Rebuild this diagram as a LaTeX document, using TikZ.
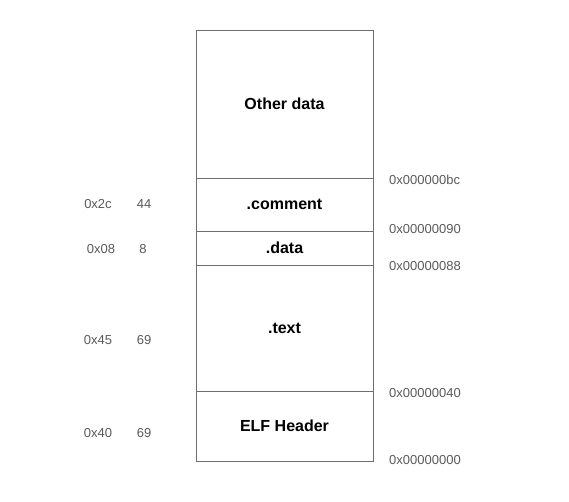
\documentclass[tikz,border=0pt]{standalone}
\usepackage{fontspec}
\setmainfont{Liberation Sans}
\usetikzlibrary{positioning}
\definecolor{linegray}{HTML}{6E6E6E}
\definecolor{labelgray}{HTML}{5A5A5A}

\begin{document}
\begin{tikzpicture}[
    x=1pt, y=-1pt,
    node distance=0pt,
    sect/.style={rectangle, draw=linegray, line width=0.7pt, minimum width=177pt, inner sep=0pt, outer sep=0pt, font=\fontsize{16}{19}\selectfont\bfseries},
    addr/.style={text=labelgray, inner sep=0pt, font=\fontsize{13}{15}\selectfont},
    size/.style={text=labelgray, inner sep=0pt, font=\fontsize{13}{15}\selectfont}
]
\useasboundingbox (0,0) rectangle (569,502);

% Memory layout, bottom to top
\node[sect, minimum height=70pt] (elf) at (284.5,426) {ELF Header};
\node[sect, minimum height=126pt, above=of elf] (text) {.text};
\node[sect, minimum height=34pt, above=of text] (data) {.data};
\node[sect, minimum height=53pt, above=of data] (comment) {.comment};
\node[sect, minimum height=148pt, above=of comment] (other) {Other data};

% Addresses on the right
\node[addr, right=16pt of other.south east, yshift=-2pt] (a-bc) {0x000000bc};
\node[addr, right=16pt of comment.south east, yshift=2pt] (a-90) {0x00000090};
\node[addr, right=16pt of data.south east, yshift=-1pt] (a-88) {0x00000088};
\node[addr, right=16pt of text.south east, yshift=-2pt] (a-40) {0x00000040};
\node[addr, right=16pt of elf.south east, yshift=1pt] (a-00) {0x00000000};

% Section sizes on the left (hex, decimal)
\node[size] (h-comment) at ([xshift=-98pt]comment.west) {0x2c};
\node[size] (d-comment) at ([xshift=-52pt]comment.west) {44};
\node[size] (h-data) at ([xshift=-95pt, yshift=-1pt]data.west) {0x08};
\node[size] (d-data) at ([xshift=-53pt, yshift=-1pt]data.west) {8};
\node[size] (h-text) at ([xshift=-98pt, yshift=-12pt]text.west) {0x45};
\node[size] (d-text) at ([xshift=-52pt, yshift=-12pt]text.west) {69};
\node[size] (h-elf) at ([xshift=-98pt, yshift=-7pt]elf.west) {0x40};
\node[size] (d-elf) at ([xshift=-52pt, yshift=-7pt]elf.west) {69};

\end{tikzpicture}
\end{document}
